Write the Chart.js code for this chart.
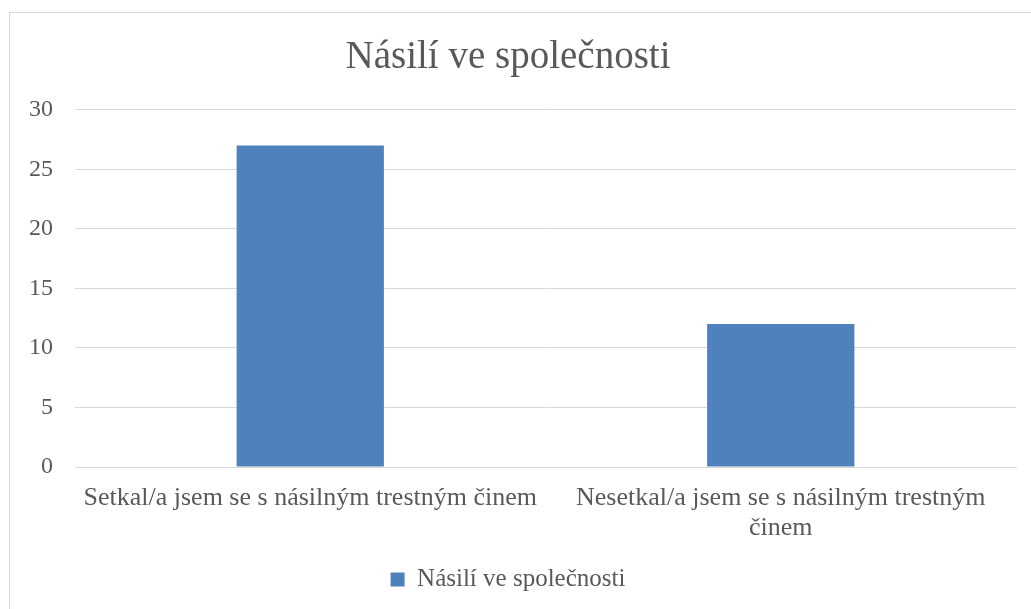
<!DOCTYPE html>
<html>
<head>
<meta charset="utf-8">
<script src="https://cdn.jsdelivr.net/npm/chart.js@4"></script>
<style>
  body { margin: 0; background: #fff; }
  #wrap { position: relative; width: 1031px; height: 609px; }
  #frame { position: absolute; left: 9px; top: 12px; width: 1040px; height: 620px; border: 1px solid #d9d9d9; box-sizing: border-box; }
  canvas { position: absolute; left: 0; top: 0; }
</style>
</head>
<body>
<div id="wrap">
  <div id="frame"></div>
  <canvas id="chart" width="1031" height="609"></canvas>
</div>
<script>
const chartTitle = 'Násilí ve společnosti';
const categories = [
  'Setkal/a jsem se s násilným trestným činem',
  ['Nesetkal/a jsem se s násilným trestným', 'činem']
];
const seriesName = 'Násilí ve společnosti';
const seriesValues = [27, 12];
const yTicks = [0, 5, 10, 15, 20, 25, 30];

const fontFamily = '"Liberation Serif", "DejaVu Serif", serif';
const textColor = '#595959';

const ctx = document.getElementById('chart').getContext('2d');
new Chart(ctx, {
  type: 'bar',
  data: {
    labels: categories,
    datasets: [{
      label: seriesName,
      data: seriesValues,
      backgroundColor: '#4f81bd',
      borderWidth: 0,
      barPercentage: 0.313,
      categoryPercentage: 1.0
    }]
  },
  options: {
    responsive: false,
    animation: false,
    layout: { padding: { left: 0, right: 15, top: 0, bottom: 7 } },
    plugins: {
      title: {
        display: true,
        text: chartTitle,
        color: textColor,
        font: { family: fontFamily, size: 39, weight: 'normal' },
        padding: { top: 34, bottom: 29 }
      },
      legend: {
        position: 'bottom',
        labels: {
          color: textColor,
          font: { family: fontFamily, size: 25 },
          boxWidth: 14,
          boxHeight: 14,
          padding: 10
        }
      },
      tooltip: { enabled: false }
    },
    scales: {
      x: {
        grid: { display: false },
        border: { display: true, color: '#d9d9d9' },
        afterFit: (scale) => { scale.height = 90; },
        ticks: {
          color: textColor,
          font: { family: fontFamily, size: 26, lineHeight: 1.15 },
          padding: 8,
          maxRotation: 0
        }
      },
      y: {
        min: 0,
        max: 30,
        afterBuildTicks: (scale) => { scale.ticks = yTicks.map(v => ({ value: v })); },
        afterFit: (scale) => { scale.width = 75; },
        grid: { color: '#d9d9d9', drawTicks: false },
        border: { display: false },
        ticks: {
          color: textColor,
          font: { family: fontFamily, size: 24 },
          padding: 22
        }
      }
    }
  }
});
</script>
</body>
</html>
